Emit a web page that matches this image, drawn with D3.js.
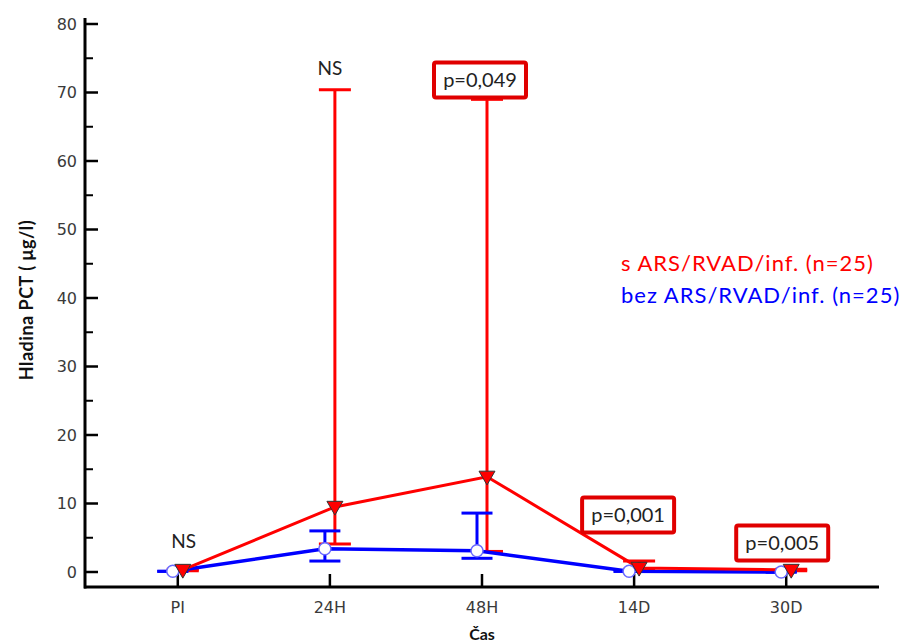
<!DOCTYPE html>
<html><head><meta charset="utf-8">
<script src="https://cdn.jsdelivr.net/npm/d3@7"></script>
<style>body{margin:0;background:#fff;}svg{display:block;}</style>
</head><body>
<svg id="c" width="906" height="643"></svg>
<script>
const categories = ["PI","24H","48H","14D","30D"];
const redMean  = [0.3, 9.5, 13.9, 0.6, 0.3];
const redLow   = [0.2, 4.1, 3.0, 0.4, 0.2];
const redHigh  = [0.4, 70.4, 69.0, 1.6, 0.4];
const blueMean = [0.1, 3.4, 3.1, 0.1, 0.0];
const blueLow  = [0.1, 1.6, 2.0, 0.1, 0.0];
const blueHigh = [0.1, 6.0, 8.6, 0.1, 0.0];
const yTicks = [0,10,20,30,40,50,60,70,80];
const legendLabels = ["s ARS/RVAD/inf. (n=25)", "bez ARS/RVAD/inf. (n=25)"];
const sigLabels = ["NS","NS","p=0,049","p=0,001","p=0,005"];
const sigBoxed  = [false,false,true,true,true];

const svg = d3.select("#c");
const RED = "#ff0000", BLUE = "#0000ff";
const x = d3.scalePoint().domain(categories).range([85,879]).padding(0.61);
const y = d3.scaleLinear().domain([0,80]).range([572,24]);
const axisY = 587;

// Y axis
svg.append("line").attr("x1",85).attr("x2",85).attr("y1",18).attr("y2",axisY+1.5)
  .attr("stroke","#000").attr("stroke-width",3);
const minor = d3.range(5,80,10);
svg.selectAll(".ymin").data(minor).join("line")
  .attr("x1",85).attr("x2",93).attr("y1",d=>y(d)).attr("y2",d=>y(d))
  .attr("stroke","#000").attr("stroke-width",2);
svg.selectAll(".ymaj").data(yTicks).join("line")
  .attr("x1",85).attr("x2",98).attr("y1",d=>y(d)).attr("y2",d=>y(d))
  .attr("stroke","#000").attr("stroke-width",2.5);
svg.selectAll(".ylab").data(yTicks).join("text")
  .attr("x",77).attr("y",d=>y(d)).attr("dy","0.36em").attr("text-anchor","end")
  .attr("font-family","DejaVu Sans").attr("font-size",16).attr("fill","#3a3a3a")
  .text(d=>d);

// X axis
svg.append("line").attr("x1",84).attr("x2",879).attr("y1",axisY).attr("y2",axisY)
  .attr("stroke","#000").attr("stroke-width",3);
svg.selectAll(".xt").data(categories).join("line")
  .attr("x1",d=>x(d)).attr("x2",d=>x(d)).attr("y1",axisY).attr("y2",axisY-13)
  .attr("stroke","#000").attr("stroke-width",2.5);
svg.selectAll(".xlab").data(categories).join("text")
  .attr("x",d=>x(d)).attr("y",607).attr("dy","0.36em").attr("text-anchor","middle")
  .attr("font-family","DejaVu Sans").attr("font-size",16).attr("fill","#3a3a3a")
  .text(d=>d);
svg.append("text").attr("x",482).attr("y",634).attr("dy","0.35em").attr("text-anchor","middle")
  .attr("font-family","Lato").attr("font-weight","bold").attr("font-size",16).attr("fill","#111")
  .text("Čas");
svg.append("text").attr("transform","translate(27,300) rotate(-90)").attr("dy","0.35em")
  .attr("text-anchor","middle").attr("font-family","Lato").attr("font-weight","bold")
  .attr("font-size",18).attr("letter-spacing",0.5).attr("fill","#111").text("Hladina PCT ( μg/l)");

function errorBars(low, high, color, off, capW) {
  const g = svg.append("g").attr("stroke",color).attr("stroke-width",3);
  categories.forEach((c,i)=>{
    const cx = x(c)+off;
    g.append("line").attr("x1",cx).attr("x2",cx).attr("y1",y(low[i])).attr("y2",y(high[i]));
    g.append("line").attr("x1",cx-capW/2).attr("x2",cx+capW/2).attr("y1",y(high[i])).attr("y2",y(high[i]));
    g.append("line").attr("x1",cx-capW/2).attr("x2",cx+capW/2).attr("y1",y(low[i])).attr("y2",y(low[i]));
  });
}
const redOff = 5, blueOff = -5;
errorBars(redLow, redHigh, RED, redOff, 32);
errorBars(blueLow, blueHigh, BLUE, blueOff, 31);

const lineGen = off => d3.line().x((d,i)=>x(categories[i])+off).y(d=>y(d));
svg.append("path").datum(blueMean).attr("d",lineGen(blueOff)).attr("fill","none")
  .attr("stroke",BLUE).attr("stroke-width",3.5);
svg.append("path").datum(redMean).attr("d",lineGen(redOff)).attr("fill","none")
  .attr("stroke",RED).attr("stroke-width",3);

svg.selectAll(".bc").data(blueMean).join("circle")
  .attr("cx",(d,i)=>x(categories[i])+blueOff).attr("cy",d=>y(d)).attr("r",6)
  .attr("fill","#fff").attr("stroke","#6a6aff").attr("stroke-width",1.5);
const tri = d3.symbol().type(d3.symbolTriangle).size(110);
svg.selectAll(".rt").data(redMean).join("path")
  .attr("d",tri).attr("transform",(d,i)=>`translate(${x(categories[i])+redOff},${y(d)-1}) rotate(180)`)
  .attr("fill",RED).attr("stroke","#333").attr("stroke-width",1);

// significance labels
const sigPos = [
  {dx:6, py:541}, {dx:0, py:68}, {dx:-2, py:80}, {dx:-6, py:515}, {dx:-4, py:543}
];
sigLabels.forEach((t,i)=>{
  const cx = x(categories[i]) + sigPos[i].dx, cy = sigPos[i].py;
  const txt = svg.append("text").attr("x",cx).attr("y",cy).attr("dy","0.35em")
    .attr("text-anchor","middle").attr("font-family","Lato").attr("font-size",sigBoxed[i]?20:19)
    .attr("fill","#222").text(t);
  if (sigBoxed[i]) {
    const w = 92, h = 35;
    svg.insert("rect", () => txt.node()).attr("x",cx-w/2).attr("y",cy-h/2).attr("width",w).attr("height",h)
      .attr("rx",2).attr("fill","#fff").attr("stroke","#e00000").attr("stroke-width",4);
  }
});

// legend
svg.selectAll(".leg").data(legendLabels).join("text")
  .attr("x",621).attr("y",(d,i)=>263+i*32).attr("dy","0.35em")
  .attr("font-family","Lato").attr("font-size",22).attr("letter-spacing",1)
  .attr("fill",(d,i)=>i===0?RED:BLUE).text(d=>d);
</script>
</body></html>
